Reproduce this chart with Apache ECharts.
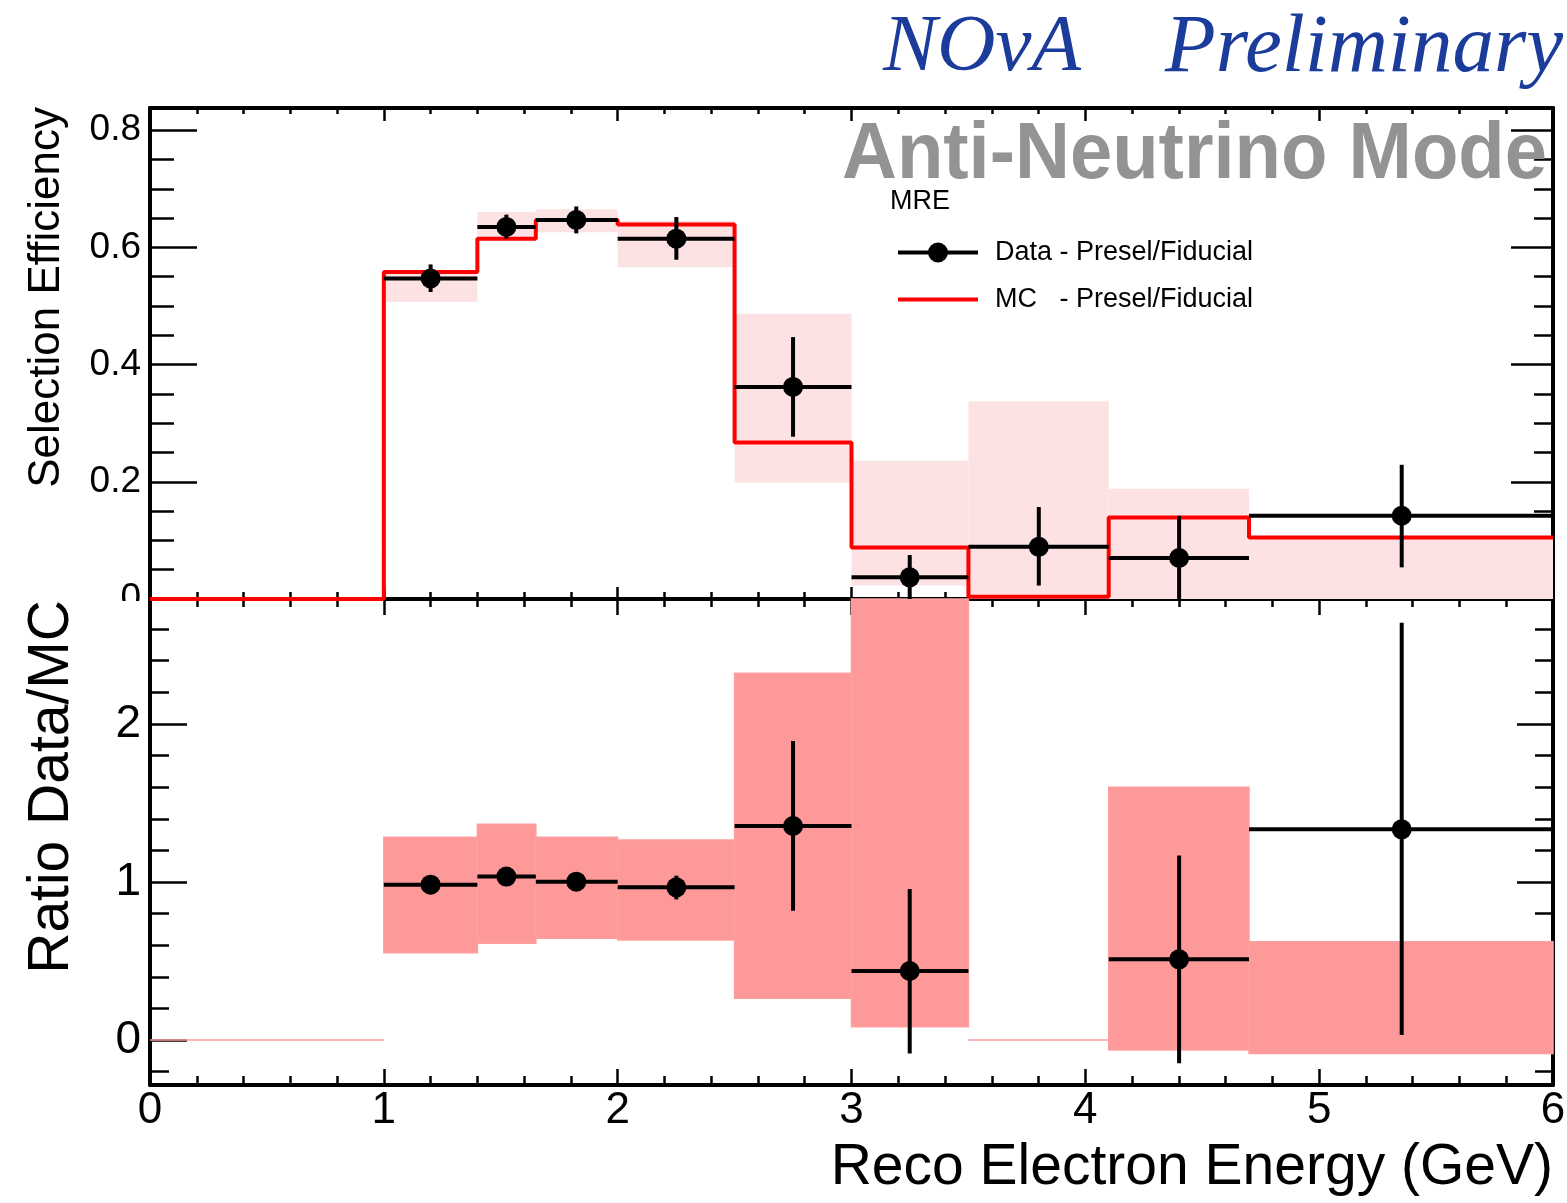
<!DOCTYPE html>
<html>
<head>
<meta charset="utf-8">
<title>Selection Efficiency - Anti-Neutrino Mode</title>
<script src="https://cdn.jsdelivr.net/npm/echarts@6.0.0/dist/echarts.min.js"></script>
<style>
  html, body { margin: 0; padding: 0; background: #fff; }
  #chart { width: 1567px; height: 1203px; }
</style>
</head>
<body>
<div id="chart"></div>
<script>
// bin edges (GeV)
const binLo = [0, 1, 1.4, 1.65, 2, 2.5, 3, 3.5, 4.1, 4.7]
const binHi = [1, 1.4, 1.65, 2, 2.5, 3, 3.5, 4.1, 4.7, 6]

// MC selection efficiency per bin and its error band
const mcEff = [0, 0.558, 0.615, 0.647, 0.639, 0.267, 0.088, 0.004, 0.139, 0.105]
const mcBandLo = [0, 0.507, 0.615, 0.626, 0.566, 0.199, 0.023, 0, 0, 0]
const mcBandHi = [0, 0.561, 0.661, 0.665, 0.645, 0.487, 0.236, 0.337, 0.188, 0.106]

// data points (no entry in the first bin)
const dataX = [1.2, 1.524, 1.823, 2.251, 2.75, 3.249, 3.801, 4.401, 5.353]
const dataBinLo = [1, 1.4, 1.65, 2, 2.5, 3, 3.5, 4.1, 4.7]
const dataBinHi = [1.4, 1.65, 2, 2.5, 3, 3.5, 4.1, 4.7, 6]
const dataEff = [0.547, 0.635, 0.647, 0.615, 0.362, 0.037, 0.089, 0.070, 0.142]
const dataErrLo = [0.524, 0.615, 0.624, 0.579, 0.277, -0.002, 0.023, -0.004, 0.054]
const dataErrHi = [0.571, 0.656, 0.670, 0.652, 0.447, 0.075, 0.157, 0.142, 0.229]

// ratio data/MC (bin 3.5-4.1 has no MC, so no point)
const ratioX = [1.2, 1.524, 1.823, 2.251, 2.75, 3.249, 4.401, 5.353]
const ratioBinLo = [1, 1.4, 1.65, 2, 2.5, 3, 4.1, 4.7]
const ratioBinHi = [1.4, 1.65, 2, 2.5, 3, 3.5, 4.7, 6]
const ratio = [0.983, 1.034, 1.002, 0.966, 1.354, 0.437, 0.511, 1.333]
const ratioErrLo = [0.95, 1.0, 0.97, 0.89, 0.818, -0.084, -0.146, 0.032]
const ratioErrHi = [1.02, 1.07, 1.04, 1.04, 1.892, 0.956, 1.167, 2.639]

// MC error band on the ratio, per bin
const ratioBandLo = [0, 0.553, 0.612, 0.644, 0.633, 0.264, 0.084, 0, -0.063, -0.084]
const ratioBandHi = [0, 1.283, 1.365, 1.283, 1.266, 2.321, 3.2, 0, 1.599, 0.622]

// tick positions
const xMajor = [0, 1, 2, 3, 4, 5, 6]
const effMajor = [0, 0.2, 0.4, 0.6, 0.8]
const effMinor = Array.from({ length: 17 }, (_, i) => +(i * 0.05).toFixed(2))
const ratioMajor = [0, 1, 2]
const ratioMinor = Array.from({ length: 15 }, (_, i) => +(-0.2 + i * 0.2).toFixed(1))

const font = 'Liberation Sans'
const dataName = 'Data - Presel/Fiducial'
const mcName = 'MC   - Presel/Fiducial'

const chart = echarts.init(document.getElementById('chart'))

function xAxisFor(gridIndex, position, tickLen, minorLen, labels) {
  return {
    type: 'value', gridIndex, position, min: 0, max: 6, interval: 1,
    splitLine: { show: false },
    axisLine: { show: true, onZero: false, lineStyle: { color: '#000', width: 4 } },
    axisTick: { show: true, inside: true, length: tickLen, lineStyle: { color: '#000', width: 2.5 } },
    minorTick: { show: true, splitNumber: 5, length: minorLen, lineStyle: { color: '#000', width: 2.5 } },
    minorSplitLine: { show: false },
    axisLabel: labels
      ? { show: true, fontFamily: font, fontSize: 44, color: '#000', margin: 4, customValues: xMajor }
      : { show: false }
  }
}

function yAxisFor(gridIndex, position, min, max, ticks, tickLen, showLine, labels) {
  return {
    type: 'value', gridIndex, position, min, max,
    splitLine: { show: false },
    axisLine: { show: showLine, onZero: false, lineStyle: { color: '#000', width: 4 } },
    axisTick: { show: true, inside: true, length: tickLen, customValues: ticks, lineStyle: { color: '#000', width: 2.5 } },
    axisLabel: labels || { show: false }
  }
}

function clipTo(cs, r) {
  return echarts.graphic.clipRectByRect(r, { x: cs.x, y: cs.y, width: cs.width, height: cs.height })
}

function bandRenderer(fill, stroke) {
  return function (params, api) {
    const a = api.coord([api.value(0), api.value(3)])
    const b = api.coord([api.value(1), api.value(2)])
    const rect = clipTo(params.coordSys, { x: a[0], y: a[1], width: b[0] - a[0], height: b[1] - a[1] })
    if (!rect) return
    return {
      type: 'rect', shape: rect,
      style: { fill, stroke: stroke || null, lineWidth: stroke ? 1.5 : 0 }
    }
  }
}

function errorBarItem(params, api) {
  const cs = params.coordSys
  const y = api.value(1)
  const mid = api.coord([api.value(0), y])
  const left = api.coord([api.value(2), y])
  const right = api.coord([api.value(3), y])
  const lo = Math.min(api.coord([api.value(0), api.value(4)])[1], cs.y + cs.height)
  const hi = Math.max(api.coord([api.value(0), api.value(5)])[1], cs.y)
  const style = { stroke: '#000', lineWidth: 4 }
  return {
    type: 'group',
    children: [
      { type: 'line', shape: { x1: left[0], y1: mid[1], x2: right[0], y2: mid[1] }, style },
      { type: 'line', shape: { x1: mid[0], y1: hi, x2: mid[0], y2: lo }, style }
    ]
  }
}

const mcStep = binLo.map((x, i) => [x, mcEff[i]]).concat([[6, mcEff[mcEff.length - 1]]])

chart.setOption({
  animation: false,
  backgroundColor: '#fff',
  grid: [
    { left: 150, top: 108, width: 1403, height: 491, outerBoundsMode: 'none', containLabel: false },
    { left: 150, top: 599, width: 1403, height: 486, outerBoundsMode: 'none', containLabel: false }
  ],
  xAxis: [
    xAxisFor(0, 'bottom', 12, 7, false),
    xAxisFor(0, 'top', 13, 6, false),
    xAxisFor(1, 'bottom', 16, 9, true),
    xAxisFor(1, 'top', 16, 8, false)
  ],
  yAxis: [
    yAxisFor(0, 'left', 0, 0.838, effMajor, 47, true, {
      show: true, customValues: effMajor, fontFamily: font, fontSize: 37, color: '#000', margin: 9
    }),
    yAxisFor(0, 'left', 0, 0.838, effMinor, 24, false),
    yAxisFor(0, 'right', 0, 0.838, effMajor, 42, true),
    yAxisFor(0, 'right', 0, 0.838, effMinor, 19, false),
    yAxisFor(1, 'left', -0.284, 2.79, ratioMajor, 37, true, {
      show: true, customValues: ratioMajor, fontFamily: font, fontSize: 46, color: '#000', margin: 9
    }),
    yAxisFor(1, 'left', -0.284, 2.79, ratioMinor, 19, false),
    yAxisFor(1, 'right', -0.284, 2.79, ratioMajor, 36, true),
    yAxisFor(1, 'right', -0.284, 2.79, ratioMinor, 18, false)
  ],
  legend: {
    orient: 'vertical',
    left: 898,
    top: 239,
    padding: 0,
    itemWidth: 80,
    itemHeight: 24,
    itemGap: 20,
    selectedMode: false,
    textStyle: { fontFamily: font, fontSize: 27, color: '#000', padding: [0, 0, 0, 12] },
    data: [
      { name: dataName, icon: 'path://M0,8h80v4h-80z M50,10a10,10 0 1,1 -20,0a10,10 0 1,1 20,0z' },
      { name: mcName, icon: 'path://M0,0h80v4h-80z' }
    ]
  },
  graphic: [
    {
      type: 'text', x: 883, y: 49, z: 10,
      style: { text: 'NOνA', fontFamily: 'Liberation Serif', fontStyle: 'italic', fontSize: 81, fill: '#1b3c9b', verticalAlign: 'middle' }
    },
    {
      type: 'text', x: 1165, y: 49, z: 10,
      style: { text: 'Preliminary', fontFamily: 'Liberation Serif', fontStyle: 'italic', fontSize: 83, fill: '#1b3c9b', verticalAlign: 'middle' }
    },
    {
      type: 'text', x: 842, y: 156, scaleX: 0.95, z: 10,
      style: { text: 'Anti-Neutrino Mode', fontFamily: font, fontWeight: 'bold', fontSize: 80, fill: '#939393', verticalAlign: 'middle' }
    },
    {
      type: 'text', x: 890, y: 202, z: 10,
      style: { text: 'MRE', fontFamily: font, fontSize: 27, fill: '#000', verticalAlign: 'middle' }
    },
    {
      type: 'text', x: 47, y: 107, rotation: Math.PI / 2, z: 10,
      style: { text: 'Selection Efficiency', fontFamily: font, fontSize: 44, fill: '#000', align: 'right', verticalAlign: 'middle' }
    },
    {
      type: 'text', x: 52, y: 600, rotation: Math.PI / 2, z: 10,
      style: { text: 'Ratio Data/MC', fontFamily: font, fontSize: 57, fill: '#000', align: 'right', verticalAlign: 'middle' }
    },
    {
      type: 'text', x: 1553, y: 1168, z: 10,
      style: { text: 'Reco Electron Energy (GeV)', fontFamily: font, fontSize: 57, fill: '#000', align: 'right', verticalAlign: 'middle' }
    },
    {
      // lower pad covers the bottom half of the upper pad's "0" label
      type: 'rect', z: 100,
      shape: { x: 80, y: 601, width: 66, height: 18 },
      style: { fill: '#fff' }
    }
  ],
  series: [
    {
      name: 'MC band', type: 'custom', xAxisIndex: 0, yAxisIndex: 0, z: 1,
      renderItem: bandRenderer('#fde2e3'),
      data: binLo.map((lo, i) => [lo, binHi[i], mcBandLo[i], mcBandHi[i]])
    },
    {
      name: mcName, type: 'line', xAxisIndex: 0, yAxisIndex: 0, z: 2,
      step: 'end', symbol: 'none', color: '#ff0000',
      lineStyle: { color: '#ff0000', width: 4 },
      data: mcStep
    },
    {
      name: 'Data errors', type: 'custom', xAxisIndex: 0, yAxisIndex: 0, z: 3,
      renderItem: errorBarItem,
      data: dataX.map((x, i) => [x, dataEff[i], dataBinLo[i], dataBinHi[i], dataErrLo[i], dataErrHi[i]])
    },
    {
      name: dataName, type: 'scatter', xAxisIndex: 0, yAxisIndex: 0, z: 4,
      symbol: 'circle', symbolSize: 20, color: '#000',
      itemStyle: { color: '#000', opacity: 1 },
      data: dataX.map((x, i) => [x, dataEff[i]])
    },
    {
      name: 'Ratio band', type: 'custom', xAxisIndex: 2, yAxisIndex: 4, z: 1,
      renderItem: bandRenderer('#fe9999', '#fe9f9f'),
      data: binLo.map((lo, i) => [lo, binHi[i], ratioBandLo[i], ratioBandHi[i]])
    },
    {
      name: 'Ratio errors', type: 'custom', xAxisIndex: 2, yAxisIndex: 4, z: 3,
      renderItem: errorBarItem,
      data: ratioX.map((x, i) => [x, ratio[i], ratioBinLo[i], ratioBinHi[i], ratioErrLo[i], ratioErrHi[i]])
    },
    {
      name: 'Ratio', type: 'scatter', xAxisIndex: 2, yAxisIndex: 4, z: 4,
      symbol: 'circle', symbolSize: 20, color: '#000',
      itemStyle: { color: '#000', opacity: 1 },
      data: ratioX.map((x, i) => [x, ratio[i]])
    }
  ]
})
</script>
</body>
</html>
